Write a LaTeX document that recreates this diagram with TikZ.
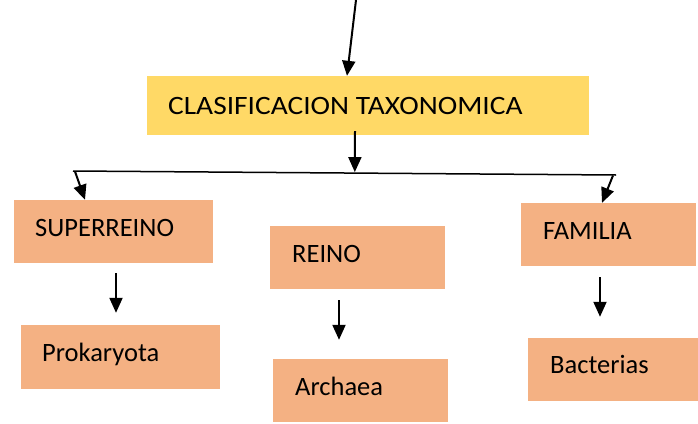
\documentclass[tikz,border=0pt]{standalone}
\usepackage{fontspec}
\setmainfont{Carlito}
\newfontfamily\titlefont{Carlito}[FakeStretch=1.11]
\usetikzlibrary{arrows.meta,calc}
\definecolor{boxyellow}{HTML}{FFD966}
\definecolor{boxorange}{HTML}{F4B183}
\begin{document}
\begin{tikzpicture}[x=1pt,y=-1pt,
  ybox/.style={rectangle,fill=boxyellow,draw=none,inner sep=0pt},
  obox/.style={rectangle,fill=boxorange,draw=none,inner sep=0pt,minimum height=63pt},
  lbl/.style={anchor=base west,inner sep=0pt,font=\fontsize{26.5}{30}\selectfont,text=black},
  arr/.style={line width=2pt,-{Triangle[length=15pt,width=13pt]}},
  hline/.style={line width=1.5pt}]
\useasboundingbox (0,0) rectangle (698,423);
% boxes
\node[ybox,minimum width=442pt,minimum height=59pt] (top) at (368,105.5) {};
\node[obox,minimum width=199pt] (sup) at (113.5,231.5) {};
\node[obox,minimum width=199pt,minimum height=64pt] (prok) at (120.5,357) {};
\node[obox,minimum width=175pt] (rei) at (357.5,257.5) {};
\node[obox,minimum width=175pt] (arch) at (360.5,390.5) {};
\node[obox,minimum width=175pt] (fam) at (608.5,234.5) {};
\node[obox,minimum width=170pt] (bac) at (613,369.5) {};
% labels
\node[lbl,font=\fontsize{26.5}{30}\titlefont] (ttop) at (168,114) {CLASIFICACION TAXONOMICA};
\node[lbl] (tsup) at (35,236) {SUPERREINO};
\node[lbl] (tprok) at (42,361) {Prokaryota};
\node[lbl] (trei) at (292,262) {REINO};
\node[lbl] (tarch) at (295,395) {Archaea};
\node[lbl] (tfam) at (543,239) {FAMILIA};
\node[lbl] (tbac) at (550,373) {Bacterias};
% connectors
\coordinate (src) at (356,0);
\coordinate (hl) at (73,171);
\coordinate (hr) at (616,175);
\draw[arr] (src) -- ([xshift=-21pt]top.north);
\draw[hline] (hl) -- (hr);
\draw[arr] ([xshift=-13pt,yshift=4pt]top.south) -- ($(hl)!0.519!(hr)+(0,-1)$);
\draw[arr] ([xshift=2pt,yshift=-0.5pt]hl) -- ([xshift=-28.5pt]sup.north);
\draw[arr] ([xshift=-3pt,yshift=-0.5pt]hr) -- ([xshift=-6.5pt]fam.north);
\draw[arr] ([xshift=2.5pt,yshift=-10pt]sup.south) -- ([xshift=-4.5pt,yshift=12pt]prok.north);
\draw[arr] ([xshift=-18.5pt,yshift=-11pt]rei.south) -- ([xshift=-21.5pt,yshift=19pt]arch.north);
\draw[arr] ([xshift=-8.5pt,yshift=-11pt]fam.south) -- ([xshift=-13pt,yshift=21pt]bac.north);
\end{tikzpicture}
\end{document}
